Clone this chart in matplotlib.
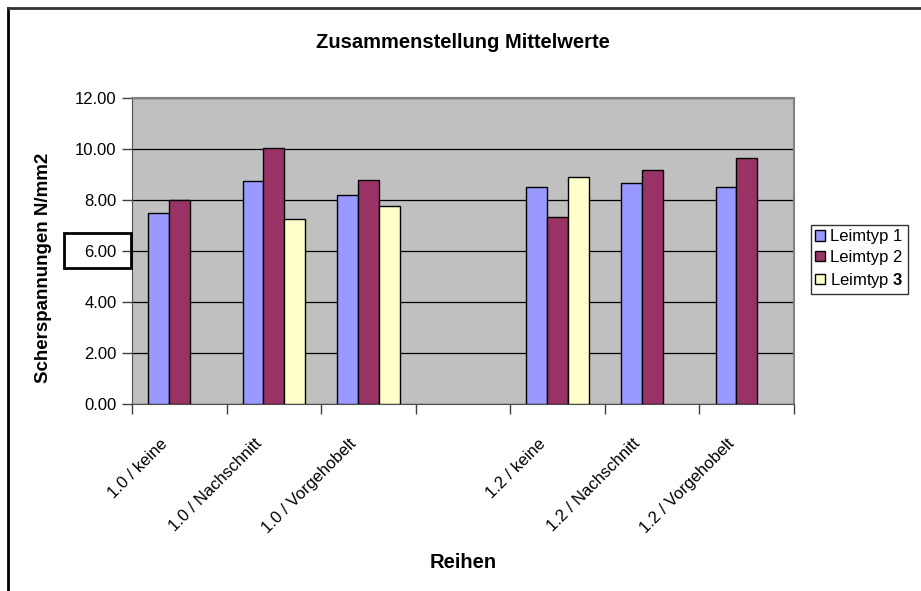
import matplotlib.pyplot as plt
import numpy as np
from matplotlib.lines import Line2D
from matplotlib.transforms import ScaledTranslation

plt.rcParams['font.family'] = ['Liberation Sans', 'DejaVu Sans']
plt.rcParams['mathtext.fontset'] = 'custom'
plt.rcParams['mathtext.bf'] = 'Liberation Sans:bold'

categories = ["1.0 / keine", "1.0 / Nachschnitt", "1.0 / Vorgehobelt", "",
              "1.2 / keine", "1.2 / Nachschnitt", "1.2 / Vorgehobelt"]
leim1 = [7.50, 8.73, 8.20, np.nan, 8.52, 8.68, 8.52]
leim2 = [8.00, 10.03, 8.80, np.nan, 7.35, 9.18, 9.66]
leim3 = [np.nan, 7.25, 7.78, np.nan, 8.90, np.nan, np.nan]
series = {"Leimtyp 1": leim1, "Leimtyp 2": leim2, "Leimtyp $\\mathbf{3}$": leim3}
colors = ["#9999FF", "#993366", "#FFFFCC"]

fig = plt.figure(figsize=(9.21, 5.91), dpi=100)
W, H = 921, 591
ax = fig.add_axes([132 / W, 1 - 404 / H, (794 - 132) / W, (404 - 98) / H])
ax.set_facecolor("#C0C0C0")

x = np.arange(len(categories))
bw = 0.22
for i, ((name, vals), c) in enumerate(zip(series.items(), colors)):
    ax.bar(x + (i - 1) * bw, vals, bw, color=c, edgecolor="black",
           linewidth=1.0, label=name, zorder=3)

ax.set_xlim(-0.5, len(categories) - 0.5)
ax.set_ylim(0, 12)
ax.set_yticks(np.arange(0, 13, 2))
ax.set_yticklabels(["%.2f" % v for v in np.arange(0, 13, 2)], fontsize=12)
ax.yaxis.grid(True, color="black", linewidth=0.9, zorder=1)
ax.set_axisbelow(True)

ax.set_xticks(np.arange(-0.5, len(categories), 1.0))
ax.set_xticklabels([])
ax.set_xticks(x, minor=True)
ax.set_xticklabels(categories, minor=True, rotation=45, ha="right",
                   va="top", rotation_mode="anchor", fontsize=12)
ax.tick_params(axis="x", which="minor", length=0, pad=3)
ax.tick_params(axis="x", which="major", length=7, width=1, color="#404040")
ax.tick_params(axis="y", length=7, width=1, color="#404040", pad=4)
shift = ScaledTranslation(-20 / 100, -28 / 100, fig.dpi_scale_trans)
for lab in ax.get_xticklabels(minor=True):
    lab.set_transform(lab.get_transform() + shift)

for s in ["left", "bottom"]:
    ax.spines[s].set_color("#505050")
for s in ["top", "right"]:
    ax.spines[s].set_color("#808080")
    ax.spines[s].set_linewidth(1.5)

fig.text(463 / W, 1 - 42 / H, "Zusammenstellung Mittelwerte", ha="center",
         va="center", fontsize=14.5, fontweight="bold")
fig.text(44 / W, 1 - 268 / H, "Scherspannungen N/mm2", ha="center",
         va="center", rotation=90, fontsize=13.5, fontweight="bold")
fig.text(463 / W, 1 - 563 / H, "Reihen", ha="center", va="center",
         fontsize=14.5, fontweight="bold")

# box around the 6.00 tick label
fig.patches.append(plt.Rectangle((64 / W, 1 - 268 / H), 67 / W, 35 / H,
                                 transform=fig.transFigure, fill=False,
                                 edgecolor="black", linewidth=2))

leg = fig.legend(loc="upper left", bbox_to_anchor=(811 / W, 1 - 225 / H),
                 frameon=True, fancybox=False, edgecolor="black",
                 fontsize=12, handlelength=0.6, handleheight=0.6,
                 handletextpad=0.3, borderpad=0.25, labelspacing=0.35,
                 borderaxespad=0)
leg.get_frame().set_linewidth(1.0)

# outer chart frame
fig.add_artist(Line2D([8 / W, 8 / W], [0, 1 - 8 / H], color="black",
                      linewidth=2, transform=fig.transFigure))
fig.add_artist(Line2D([8 / W, 1], [1 - 8 / H, 1 - 8 / H], color="#333333",
                      linewidth=2, transform=fig.transFigure))

fig.savefig("out.png", dpi=100)
